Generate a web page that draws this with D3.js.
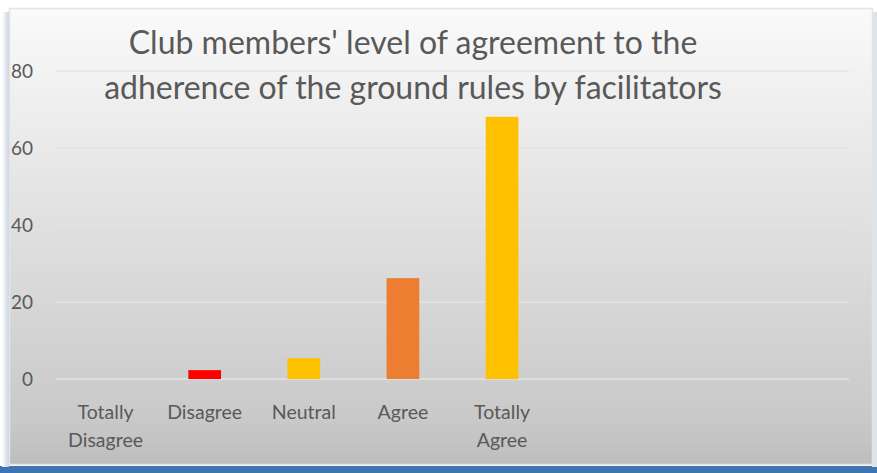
<!DOCTYPE html>
<html>
<head>
<meta charset="utf-8">
<script src="https://cdn.jsdelivr.net/npm/d3@7"></script>
<style>
  body { margin: 0; background: #fff; }
  #chart { width: 877px; height: 473px; }
  text { font-family: Lato, "Open Sans", sans-serif; fill: #595959; }
</style>
</head>
<body>
<div id="chart"></div>
<script>
// chart data
const categories = ["Totally Disagree", "Disagree", "Neutral", "Agree", "Totally Agree", "", " ", "  "];
const values = [0, 2.3, 5.4, 26.2, 68.1];
const barColors = ["#FFC000", "#FF0000", "#FFC000", "#ED7D31", "#FFC000"];
const yTicks = [0, 20, 40, 60, 80];
const titleLines = ["Club members' level of agreement to the", "adherence of the ground rules by facilitators"];

const W = 877, H = 473;
const plot = { left: 56, right: 849, top: 71, bottom: 379 };

const svg = d3.select("#chart").append("svg")
  .attr("width", W)
  .attr("height", H);

const defs = svg.append("defs");
const grad = defs.append("linearGradient")
  .attr("id", "bg")
  .attr("x1", 0).attr("y1", 0).attr("x2", 0).attr("y2", 1);
grad.append("stop").attr("offset", "0%").attr("stop-color", "#fafafa");
grad.append("stop").attr("offset", "55%").attr("stop-color", "#dcdcdc");
grad.append("stop").attr("offset", "90%").attr("stop-color", "#c9c9c9");
grad.append("stop").attr("offset", "100%").attr("stop-color", "#bdbdbd");

const shadow = defs.append("linearGradient")
  .attr("id", "sideShadow")
  .attr("x1", 0).attr("y1", 0).attr("x2", 1).attr("y2", 0);
shadow.append("stop").attr("offset", "0%").attr("stop-color", "#ffffff");
shadow.append("stop").attr("offset", "100%").attr("stop-color", "#c9d3e0");

// blue strip at the bottom
svg.append("rect")
  .attr("x", 0).attr("y", 466)
  .attr("width", W).attr("height", 7)
  .attr("fill", "#3f74b3");

// side shadows
svg.append("rect")
  .attr("x", 2).attr("y", 12).attr("width", 7).attr("height", 455)
  .attr("fill", "url(#sideShadow)");
svg.append("rect")
  .attr("x", 872).attr("y", 12).attr("width", 5).attr("height", 455)
  .attr("fill", "#dfe3e8");

// chart area
svg.append("rect")
  .attr("x", 9.5).attr("y", 8.5)
  .attr("width", 863).attr("height", 456)
  .attr("fill", "url(#bg)")
  .attr("stroke", "#e4e4e4")
  .attr("stroke-width", 1.5);

// scales
const x = d3.scaleBand()
  .domain(categories)
  .range([plot.left, plot.right])
  .paddingInner(0.67)
  .paddingOuter(0.335);

const y = d3.scaleLinear()
  .domain([0, 80])
  .range([plot.bottom, plot.top]);

// gridlines
svg.append("g")
  .selectAll("line")
  .data(yTicks)
  .join("line")
  .attr("x1", plot.left)
  .attr("x2", plot.right)
  .attr("y1", d => y(d))
  .attr("y2", d => y(d))
  .attr("stroke", "#e3e3e3")
  .attr("stroke-width", 1.5);

// y axis labels
const yAxis = svg.append("g")
  .attr("transform", `translate(${plot.left - 23},0)`)
  .call(d3.axisLeft(y).tickValues(yTicks).tickSize(0).tickPadding(0));
yAxis.select(".domain").remove();
yAxis.selectAll("text")
  .attr("font-size", 19)
  .attr("fill", "#595959")
  .style("font-family", "Lato, 'Open Sans', sans-serif");

// bars
const data = values.map((v, i) => ({ cat: categories[i], value: v, color: barColors[i] }));
svg.append("g")
  .selectAll("rect")
  .data(data)
  .join("rect")
  .attr("x", d => x(d.cat))
  .attr("y", d => y(d.value))
  .attr("width", x.bandwidth())
  .attr("height", d => y(0) - y(d.value))
  .attr("fill", d => d.color);

// category labels
const xLabels = svg.append("g")
  .selectAll("text")
  .data(categories.slice(0, 5))
  .join("text")
  .attr("text-anchor", "middle")
  .attr("font-size", 19.5)
  .attr("x", d => x(d) + x.bandwidth() / 2)
  .attr("y", 419);
xLabels.each(function (d) {
  const words = d.split(" ");
  const t = d3.select(this);
  words.forEach((w, i) => {
    t.append("tspan")
      .attr("x", x(d) + x.bandwidth() / 2)
      .attr("dy", i === 0 ? 0 : 28)
      .text(w);
  });
});

// title
svg.append("g")
  .selectAll("text")
  .data(titleLines)
  .join("text")
  .attr("text-anchor", "middle")
  .attr("x", 413)
  .attr("y", (d, i) => 54 + i * 45)
  .attr("font-size", 32)
  .text(d => d);
</script>
</body>
</html>
